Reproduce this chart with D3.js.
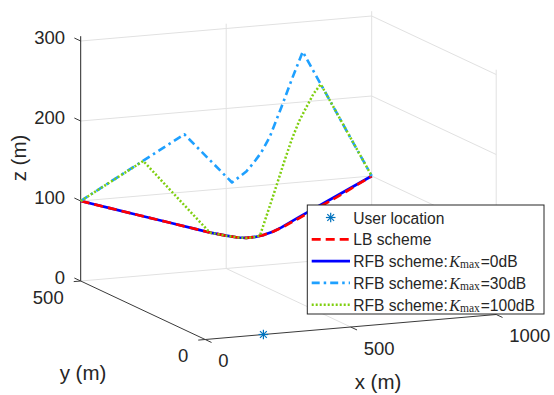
<!DOCTYPE html>
<html><head><meta charset="utf-8">
<script src="https://cdn.jsdelivr.net/npm/d3@7"></script>
<style>
body{margin:0;background:#fff}
text{font-family:"Liberation Sans",Arial,Helvetica,sans-serif;fill:#262626}
</style>
</head><body>
<svg id="c" width="554" height="395"></svg>
<script>
// ---- data ----
const xTicks = [0, 500, 1000];
const yTicks = [0, 500];
const zTicks = [0, 100, 200, 300];
const userX = [200], userY = [0], userZ = [0];
const flightY = 500;

const lbX = [0, 100, 200, 300, 400, 450, 500, 540, 570, 600, 630, 660, 690, 750, 800, 850, 900, 950, 1000];
const lbZ = [100, 88, 76, 64, 52, 46, 41, 37.5, 36, 36.3, 38, 41, 45, 55, 63.5, 72, 81, 90.5, 100];

const rfb0X = [0, 100, 200, 300, 400, 450, 500, 540, 570, 600, 630, 660, 690, 750, 800, 850, 900, 950, 1000];
const rfb0Z = [100, 88, 76, 64, 52, 46, 41, 37.5, 36, 36.3, 38, 41, 45.5, 56.4, 65.1, 73.8, 82.5, 91.3, 100];

const rfb30X = [0, 356, 520, 545, 570, 593, 620, 650, 690, 725, 763, 825, 900, 1000];
const rfb30Z = [100, 172.3, 106.9, 113, 119.5, 128.6, 141, 160, 196, 229, 262.8, 220.2, 168.7, 100];

const rfb100X = [0, 215, 444, 500, 540, 570, 600, 616, 640, 668, 700, 725, 750, 777, 800, 825, 900, 1000];
const rfb100Z = [100, 143.3, 46.5, 41, 37.5, 36, 36.3, 37.5, 63, 93, 128, 154, 176, 194, 209, 220.2, 168.7, 100];

const legendLabels = ["User location", "LB scheme", "RFB scheme:", "RFB scheme:", "RFB scheme:"];
const legendKvals = [null, null, "0dB", "30dB", "100dB"];

// ---- projection ----
const svg = d3.select("#c");
const sx = d3.scaleLinear().domain([0, 1000]).range([0, 1]);
const sy = d3.scaleLinear().domain([0, 500]).range([1, 0]);
const sz = d3.scaleLinear().domain([0, 300]).range([0, 1]);
const O = [80.7, 281], EX = [291, -25], EY = [124.5, 58.5], EZ = [0, -240];
const zTop = 306;
function P(x, y, z) {
  const a = sx(x), b = sy(y), c = sz(z);
  return [O[0] + a * EX[0] + b * EY[0] + c * EZ[0], O[1] + a * EX[1] + b * EY[1] + c * EZ[1]];
}
function seg(g, p, q, stroke, w) {
  g.append("line").attr("x1", p[0]).attr("y1", p[1]).attr("x2", q[0]).attr("y2", q[1])
    .attr("stroke", stroke).attr("stroke-width", w);
}

// ---- grid ----
const grid = svg.append("g");
const gc = "#e1e1e1";
zTicks.forEach(z => { if (z > 0) seg(grid, P(0, 500, z), P(1000, 500, z), gc, 1); });
[500, 1000].forEach(x => seg(grid, P(x, 500, 0), P(x, 500, zTop), gc, 1));
zTicks.forEach(z => seg(grid, P(1000, 500, z), P(1000, 0, z), gc, 1));
seg(grid, P(1000, 0, 0), P(1000, 0, zTop), gc, 1);
seg(grid, P(500, 500, 0), P(500, 0, 0), gc, 1);
seg(grid, P(0, 500, 0), P(1000, 500, 0), gc, 1);

// ---- axes ----
const ax = svg.append("g");
const ac = "#262626";
seg(ax, P(0, 500, 0), P(0, 500, zTop), ac, 1);
seg(ax, P(0, 500, 0), P(0, 0, 0), "#3a3a3a", 1);
seg(ax, P(0, 0, 0), P(1000, 0, 0), "#3a3a3a", 1);
function unit(v) { const l = Math.hypot(v[0], v[1]); return [v[0] / l, v[1] / l]; }
const tl = 7;
const uEY = unit(EY), uEX = unit(EX);
zTicks.forEach(z => {
  const p = P(0, 500, z);
  seg(ax, p, [p[0] - uEY[0] * tl, p[1] - uEY[1] * tl], "#3a3a3a", 1);
  ax.append("text").attr("x", 65).attr("y", p[1] - 4).attr("text-anchor", "end")
    .attr("dominant-baseline", "central").attr("font-size", 18.5).text(z);
});
yTicks.forEach(y => {
  const p = P(0, y, 0);
  seg(ax, p, [p[0] - uEX[0] * tl, p[1] - uEX[1] * tl], "#3a3a3a", 1);
  ax.append("text").attr("x", p[0] - 17).attr("y", p[1] + 16).attr("text-anchor", "end")
    .attr("dominant-baseline", "central").attr("font-size", 18.5).text(y);
});
xTicks.forEach(x => {
  const p = P(x, 0, 0);
  seg(ax, p, [p[0] + uEY[0] * tl, p[1] + uEY[1] * tl], "#3a3a3a", 1);
  ax.append("text").attr("x", p[0] + 13).attr("y", p[1] + 21).attr("text-anchor", "start")
    .attr("dominant-baseline", "central").attr("font-size", 18.5).text(x);
});
// axis labels
ax.append("text").attr("transform", "translate(18,158) rotate(-90)").attr("text-anchor", "middle")
  .attr("dominant-baseline", "central").attr("font-size", 20.5).text("z (m)");
ax.append("text").attr("x", 83).attr("y", 372).attr("text-anchor", "middle")
  .attr("dominant-baseline", "central").attr("font-size", 20.5).text("y (m)");
ax.append("text").attr("x", 378).attr("y", 381).attr("text-anchor", "middle")
  .attr("dominant-baseline", "central").attr("font-size", 20.5).text("x (m)");

// ---- series ----
const styles = [
  { X: rfb0X, Z: rfb0Z, color: "#0000ff", w: 2.7, dash: null },
  { X: lbX, Z: lbZ, color: "#ff0000", w: 2.7, dash: "9,5" },
  { X: rfb30X, Z: rfb30Z, color: "#1ea0ff", w: 2.6, dash: "8,4,2.5,4" },
  { X: rfb100X, Z: rfb100Z, color: "#7fcf10", w: 2.5, dash: "2,2" }
];
const line = d3.line().x(d => d[0]).y(d => d[1]);
const lg = svg.append("g");
styles.forEach(s => {
  const pts = s.X.map((x, i) => P(x, flightY, s.Z[i]));
  lg.append("path").attr("d", line(pts)).attr("fill", "none").attr("stroke", s.color)
    .attr("stroke-width", s.w).attr("stroke-dasharray", s.dash).attr("stroke-linejoin", "round");
});
function star(g, cx, cy, r, color) {
  for (let k = 0; k < 4; k++) {
    const a = k * Math.PI / 4;
    g.append("line").attr("x1", cx - r * Math.cos(a)).attr("y1", cy - r * Math.sin(a))
      .attr("x2", cx + r * Math.cos(a)).attr("y2", cy + r * Math.sin(a))
      .attr("stroke", color).attr("stroke-width", 1.2);
  }
}
userX.forEach((x, i) => { const p = P(x, userY[i], userZ[i]); star(lg, p[0], p[1], 4.8, "#0072bd"); });

// ---- legend ----
const leg = svg.append("g");
leg.append("rect").attr("x", 307.3).attr("y", 205).attr("width", 236.7).attr("height", 109)
  .attr("fill", "#fff").attr("stroke", "#262626").attr("stroke-width", 1);
const rowY = d => 217.5 + d * 21.8;
const legStyles = [null, styles[1], styles[0], styles[2], styles[3]];
legendLabels.forEach((lab, i) => {
  const y = rowY(i);
  if (i === 0) star(leg, 330.7, y, 4.8, "#0072bd");
  else {
    const s = legStyles[i];
    leg.append("line").attr("x1", 311.7).attr("x2", 350).attr("y1", y).attr("y2", y)
      .attr("stroke", s.color).attr("stroke-width", s.w).attr("stroke-dasharray", s.dash);
  }
  const t = leg.append("text").attr("x", 353.3).attr("y", y).attr("dominant-baseline", "central")
    .attr("font-size", 15.6);
  t.append("tspan").text(lab);
  if (legendKvals[i]) {
    t.append("tspan").attr("dx", 1.5).attr("font-family", "'Liberation Serif','DejaVu Serif',serif")
      .attr("font-style", "italic").attr("font-size", 16).text("K");
    t.append("tspan").attr("font-family", "'Liberation Serif','DejaVu Serif',serif")
      .attr("font-size", 11.5).attr("dy", 3).text("max");
    t.append("tspan").attr("dy", -3).attr("dx", 1).text("=" + legendKvals[i]);
  }
});
</script>
</body></html>
